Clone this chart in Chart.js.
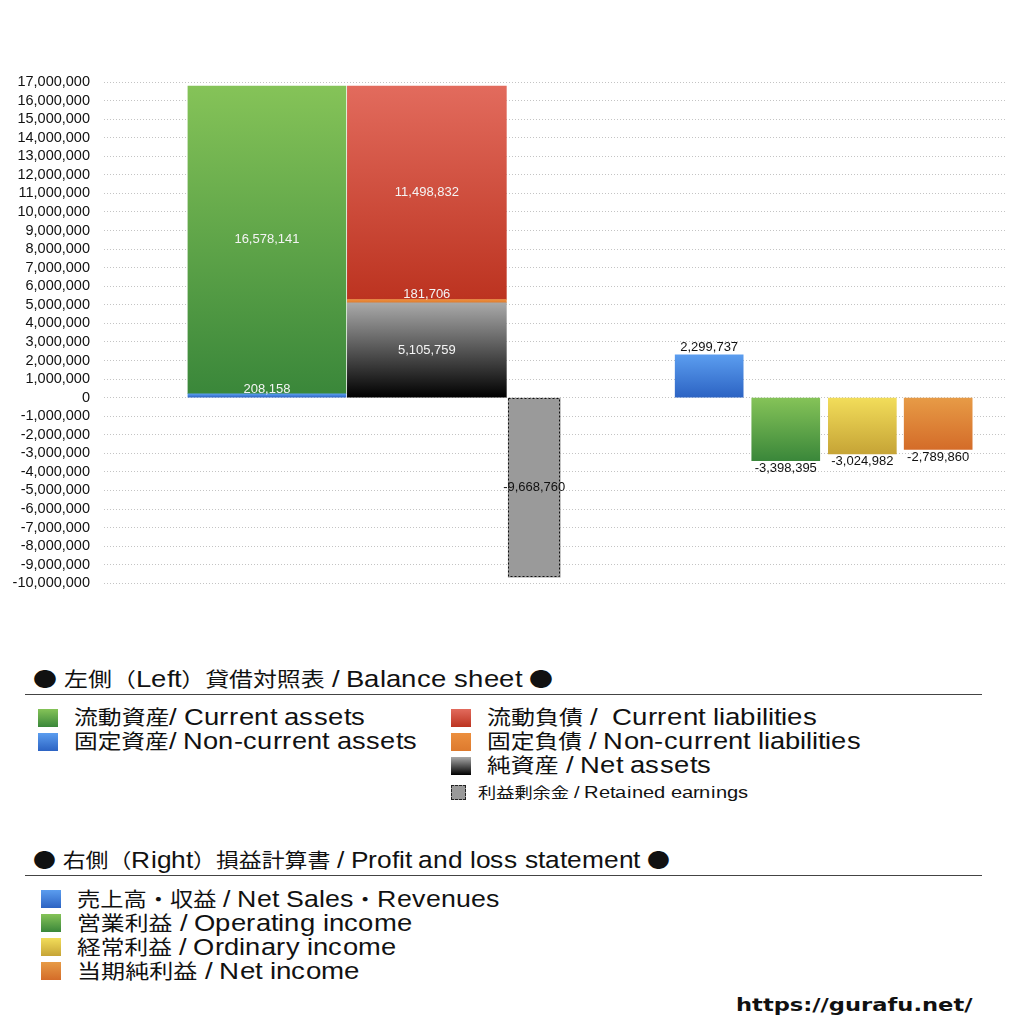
<!DOCTYPE html>
<html>
<head>
<meta charset="utf-8">
<script src="https://cdn.jsdelivr.net/npm/chart.js@4.4.1/dist/chart.umd.min.js"></script>
<style>
@font-face{font-family:"LatH";src:local("Liberation Sans"),local("LiberationSans");size-adjust:113%;unicode-range:U+0020-007E;}
html,body{margin:0;padding:0;background:#fff;width:1024px;height:1024px;overflow:hidden;
  font-family:"LatH","Noto Sans CJK JP","Noto Sans",sans-serif;color:#111}
#wrap{position:absolute;left:0;top:0;width:1024px;height:606px}
.t{position:absolute;white-space:pre;line-height:1;transform-origin:0 50%}
.rule{position:absolute;height:0;border-top:1px solid #444;left:25px;width:957px}
.sw{position:absolute}
</style>
</head>
<body>
<div id="wrap"><canvas id="c" width="1024" height="606"></canvas></div>
<div id="legend"></div>
<script>
// ---------- DATA ----------
const bsTitle = '● 左側（Left）貸借対照表 / Balance sheet ●';
const plTitle = '● 右側（Right）損益計算書 / Profit and loss statement ●';
const sourceText = 'https://gurafu.net/';

// Balance sheet (left)
const assetLabels = ['固定資産/ Non-current assets', '流動資産/ Current assets'];
const assetValues = [208158, 16578141];
const liabilityLabels = ['純資産 / Net assets', '固定負債 / Non-current liabilities', '流動負債 /  Current liabilities'];
const liabilityValues = [5105759, 181706, 11498832];
const retainedLabel = '利益剰余金 / Retained earnings';
const retainedValue = -9668760;

// Profit and loss (right)
const plLabels = ['売上高・収益 / Net Sales・Revenues', '営業利益 / Operating income', '経常利益 / Ordinary income', '当期純利益 / Net income'];
const plValues = [2299737, -3398395, -3024982, -2789860];

// Axis ticks
const yMin = -10000000;
const yMax = 17000000;
const yStep = 1000000;

// ---------- STYLE / LAYOUT ----------
const colPos = [2.17, 4.30, 5.73, 8.06, 9.08, 10.10, 11.11]; // column slots on hidden x scale (0..12)
const colWidth = [158, 159, 52, 68, 68, 68, 68];
const grads = {
  blue:   ['#5b9def', '#2c63c3'],
  green:  ['#85c358', '#3a873a'],
  black:  ['#a9a9a9', '#000000'],
  orange: ['#ec8f3e', '#dd7a2e'],
  red:    ['#e26b5d', '#bc3320'],
  gray:   ['#9a9a9a', '#9a9a9a'],
  yellow: ['#f2dd5a', '#c6a436'],
  orange2:['#e79b46', '#d46c29']
};
const assetColors = ['blue', 'green'];
const liabilityColors = ['black', 'orange', 'red'];
const plColors = ['blue', 'green', 'yellow', 'orange2'];

const fmt = v => v.toLocaleString('en-US');

function gradFill(colorKey, lo, hi) {
  return function (ctx) {
    const chart = ctx.chart;
    const ys = chart.scales && chart.scales.y;
    const c = grads[colorKey];
    if (!ys || !isFinite(ys.top)) return c[0];
    const yTop = ys.getPixelForValue(Math.max(lo, hi));
    const yBot = ys.getPixelForValue(Math.min(lo, hi));
    if (!isFinite(yTop) || !isFinite(yBot) || yTop === yBot) return c[0];
    const g = chart.ctx.createLinearGradient(0, yTop, 0, yBot);
    g.addColorStop(0, c[0]);
    g.addColorStop(1, c[1]);
    return g;
  };
}

const datasets = [];
function addStack(labels, values, colors, col, kind) {
  let base = 0;
  values.forEach((v, i) => {
    datasets.push({
      label: labels[i],
      data: [{x: colPos[col], y: v}],
      backgroundColor: gradFill(colors[i], base, base + v),
      barThickness: colWidth[col],
      grouped: false,
      stack: 'col' + col,
      labelKind: kind
    });
    base += v;
  });
}
addStack(assetLabels, assetValues, assetColors, 0, 'inside');
addStack(liabilityLabels, liabilityValues, liabilityColors, 1, 'inside');
datasets.push({
  label: retainedLabel,
  data: [{x: colPos[2], y: retainedValue}],
  backgroundColor: grads.gray[0],
  barThickness: colWidth[2],
  grouped: false,
  stack: 'col2',
  labelKind: 'center',
  dashedBorder: true
});
plValues.forEach((v, i) => {
  datasets.push({
    label: plLabels[i],
    data: [{x: colPos[3 + i], y: v}],
    backgroundColor: gradFill(plColors[i], 0, v),
    barThickness: colWidth[3 + i],
    grouped: false,
    stack: 'col' + (3 + i),
    labelKind: 'outside'
  });
});

const labelFont = '13px "Liberation Sans", Arial, sans-serif';
const valueLabels = {
  id: 'valueLabels',
  afterDatasetsDraw(chart) {
    const ctx = chart.ctx;
    ctx.save();
    ctx.font = labelFont;
    ctx.textAlign = 'center';
    ctx.textBaseline = 'middle';
    chart.data.datasets.forEach((ds, di) => {
      const meta = chart.getDatasetMeta(di);
      meta.data.forEach((el, i) => {
        const v = ds.data[i].y;
        const top = Math.min(el.y, el.base), bot = Math.max(el.y, el.base);
        if (ds.dashedBorder) {
          ctx.save();
          ctx.setLineDash([2, 2]);
          ctx.strokeStyle = '#111';
          ctx.lineWidth = 1;
          ctx.strokeRect(Math.round(el.x - el.width / 2) + 0.5, Math.round(top) + 0.5, Math.round(el.width) - 1, Math.round(bot - top) - 1);
          ctx.restore();
        }
        let y, color;
        if (ds.labelKind === 'inside') {
          color = '#f4f4f4';
          y = (bot - top) < 16 ? bot - 8 : (top + bot) / 2;
        } else if (ds.labelKind === 'center') {
          color = '#111';
          y = (top + bot) / 2;
        } else {
          color = '#111';
          y = v >= 0 ? top - 8 : bot + 8;
        }
        ctx.fillStyle = color;
        ctx.fillText(fmt(v), el.x, y);
      });
    });
    ctx.restore();
  }
};

new Chart(document.getElementById('c'), {
  type: 'bar',
  data: {datasets},
  options: {
    responsive: false,
    animation: false,
    devicePixelRatio: 1,
    layout: {padding: {top: 82, bottom: 13, right: 19, left: 0}},
    plugins: {legend: {display: false}, tooltip: {enabled: false}},
    scales: {
      x: {
        type: 'linear', min: 0, max: 12, offset: false, display: false,
        grid: {display: false}
      },
      y: {
        stacked: true,
        min: yMin, max: yMax,
        afterFit(scale) { scale.width = 104; },
        ticks: {
          stepSize: yStep,
          autoSkip: false,
          padding: 14,
          color: '#111',
          font: {family: '"Liberation Sans", Arial, sans-serif', size: 14.5},
          callback: v => fmt(v)
        },
        grid: {color: '#c4c4c4', drawTicks: false, lineWidth: 1},
        border: {display: false, dash: [1, 2]}
      }
    }
  },
  plugins: [valueLabels]
});

// ---------- LEGEND (HTML text, fitted to the reference line widths) ----------
const L = document.getElementById('legend');
const fitted = [];
function text(str, x, cy, size, right, extra) {
  const d = document.createElement('div');
  d.className = 't';
  d.textContent = str;
  d.style.left = x + 'px';
  d.style.top = (cy - size * 0.45) + 'px';
  d.style.fontSize = size + 'px';
  d.style.height = size + 'px';
  if (extra) Object.assign(d.style, extra);
  L.appendChild(d);
  fitted.push([d, right - x]);
}
function fitAll() {
  fitted.forEach(([d, w]) => {
    const nat = d.offsetWidth;
    if (nat > 0) d.style.transform = 'scaleX(' + (w / nat).toFixed(4) + ')';
  });
}
function swatch(key, x, y, w, h, dashed) {
  const d = document.createElement('div');
  d.className = 'sw';
  const c = grads[key];
  d.style.left = x + 'px'; d.style.top = y + 'px';
  d.style.width = w + 'px'; d.style.height = h + 'px';
  d.style.background = 'linear-gradient(' + c[0] + ',' + c[1] + ')';
  if (dashed) { d.style.boxSizing = 'border-box'; d.style.border = '1px dashed #222'; }
  L.appendChild(d);
}
function rule(y) {
  const d = document.createElement('div');
  d.className = 'rule'; d.style.top = y + 'px';
  L.appendChild(d);
}

const FS = 20;
text(bsTitle, 33, 679, FS, 553);
rule(694);
const leftItems = [[assetLabels[1], assetColors[1], 365], [assetLabels[0], assetColors[0], 417]];
leftItems.forEach((it, i) => {
  swatch(it[1], 38, 709 + i * 24, 20, 18);
  text(it[0], 74, 717 + i * 24, FS, it[2]);
});
const rightItems = [[liabilityLabels[2], liabilityColors[2], 817], [liabilityLabels[1], liabilityColors[1], 861], [liabilityLabels[0], liabilityColors[0], 711]];
rightItems.forEach((it, i) => {
  swatch(it[1], 451, 709 + i * 24, 20, 18);
  text(it[0], 487, 717 + i * 24, FS, it[2]);
});
swatch('gray', 451, 785, 15, 15, true);
text(retainedLabel, 478, 792, 14.5, 749);

text(plTitle, 33, 860, FS, 670);
rule(875);
const plRight = [500, 412, 396, 360];
plLabels.forEach((lab, i) => {
  swatch(plColors[i], 41, 890 + i * 24, 20, 18);
  text(lab, 77, 899 + i * 24, FS, plRight[i]);
});
text(sourceText, 736, 1004, 18, 972, {fontWeight: 'bold', fontFamily: '"DejaVu Sans", sans-serif'});
fitAll();
if (document.fonts && document.fonts.ready) document.fonts.ready.then(fitAll);
</script>
</body>
</html>
